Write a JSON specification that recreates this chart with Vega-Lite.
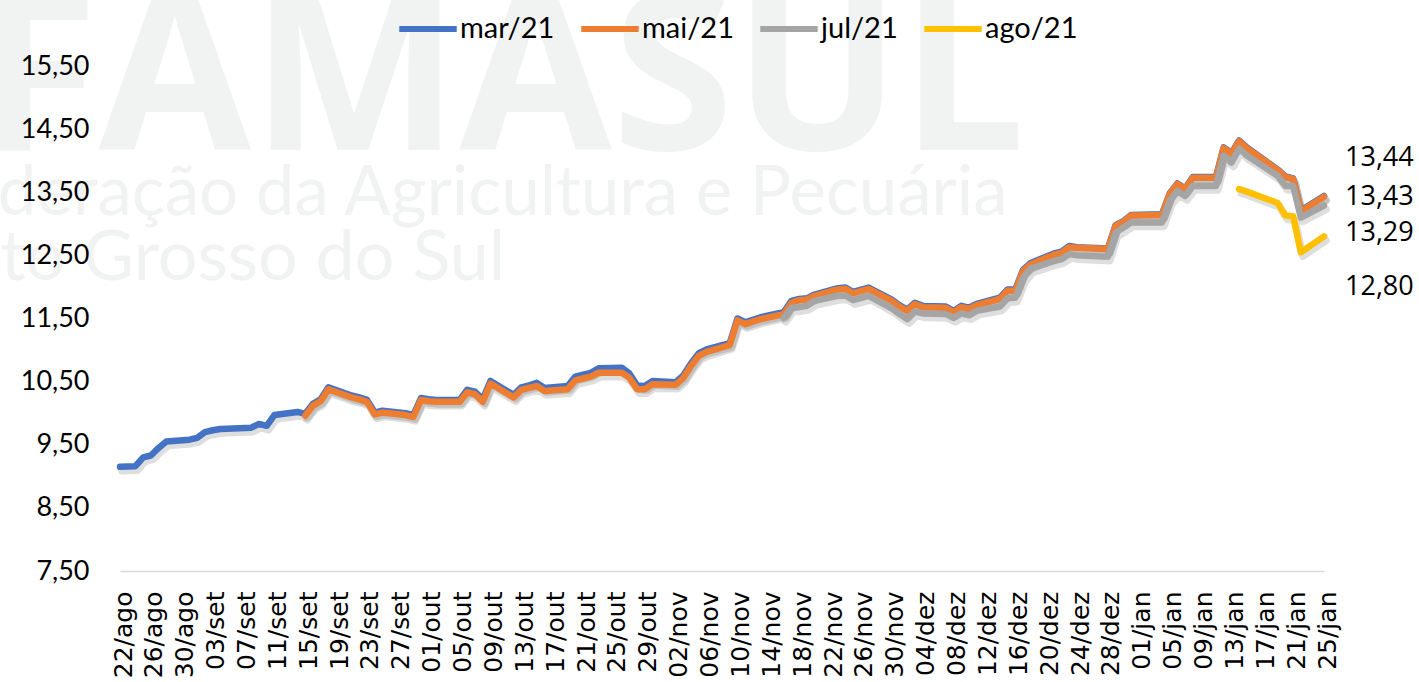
{
  "$schema": "https://vega.github.io/schema/vega-lite/v6.json",
  "autosize": {"type": "none"},
  "width": 1204,
  "height": 505,
  "padding": {"left": 120, "top": 66, "right": 95, "bottom": 111},
  "background": "#ffffff",
  "config": {
    "view": {"stroke": null},
    "locale": {
      "number": {"decimal": ",", "thousands": ".", "grouping": [3], "currency": ["R$", ""]},
      "time": {
        "dateTime": "%A, %e de %B de %Y. %X", "date": "%d/%m/%Y", "time": "%H:%M:%S", "periods": ["AM", "PM"],
        "days": ["Domingo", "Segunda", "Terça", "Quarta", "Quinta", "Sexta", "Sábado"],
        "shortDays": ["Dom", "Seg", "Ter", "Qua", "Qui", "Sex", "Sáb"],
        "months": ["Janeiro", "Fevereiro", "Março", "Abril", "Maio", "Junho", "Julho", "Agosto", "Setembro", "Outubro", "Novembro", "Dezembro"],
        "shortMonths": ["jan", "fev", "mar", "abr", "mai", "jun", "jul", "ago", "set", "out", "nov", "dez"]
      }
    }
  },
  "resolve": {"axis": {"x": "independent", "y": "independent"}},
  "datasets": {
    "precos": [
      {"d": "2020-08-22", "mar/21": 9.15},
      {"d": "2020-08-24", "mar/21": 9.16},
      {"d": "2020-08-25", "mar/21": 9.30},
      {"d": "2020-08-26", "mar/21": 9.33},
      {"d": "2020-08-27", "mar/21": 9.45},
      {"d": "2020-08-28", "mar/21": 9.55},
      {"d": "2020-08-31", "mar/21": 9.58},
      {"d": "2020-09-01", "mar/21": 9.61},
      {"d": "2020-09-02", "mar/21": 9.70},
      {"d": "2020-09-03", "mar/21": 9.73},
      {"d": "2020-09-04", "mar/21": 9.75},
      {"d": "2020-09-08", "mar/21": 9.77},
      {"d": "2020-09-09", "mar/21": 9.83},
      {"d": "2020-09-10", "mar/21": 9.80},
      {"d": "2020-09-11", "mar/21": 9.97},
      {"d": "2020-09-14", "mar/21": 10.02},
      {"d": "2020-09-15", "mar/21": 9.99, "mai/21": 9.96},
      {"d": "2020-09-16", "mar/21": 10.15, "mai/21": 10.12},
      {"d": "2020-09-17", "mar/21": 10.22, "mai/21": 10.19},
      {"d": "2020-09-18", "mar/21": 10.41, "mai/21": 10.38},
      {"d": "2020-09-21", "mar/21": 10.28, "mai/21": 10.25},
      {"d": "2020-09-22", "mar/21": 10.25, "mai/21": 10.22},
      {"d": "2020-09-23", "mar/21": 10.21, "mai/21": 10.18},
      {"d": "2020-09-24", "mar/21": 10.01, "mai/21": 9.98},
      {"d": "2020-09-25", "mar/21": 10.04, "mai/21": 10.01},
      {"d": "2020-09-28", "mar/21": 10.00, "mai/21": 9.97},
      {"d": "2020-09-29", "mar/21": 9.97, "mai/21": 9.94},
      {"d": "2020-09-30", "mar/21": 10.24, "mai/21": 10.21},
      {"d": "2020-10-01", "mar/21": 10.22, "mai/21": 10.19},
      {"d": "2020-10-02", "mar/21": 10.21, "mai/21": 10.18},
      {"d": "2020-10-05", "mar/21": 10.21, "mai/21": 10.18},
      {"d": "2020-10-06", "mar/21": 10.37, "mai/21": 10.33},
      {"d": "2020-10-07", "mar/21": 10.34, "mai/21": 10.30},
      {"d": "2020-10-08", "mar/21": 10.22, "mai/21": 10.18},
      {"d": "2020-10-09", "mar/21": 10.51, "mai/21": 10.47},
      {"d": "2020-10-12", "mar/21": 10.29, "mai/21": 10.25},
      {"d": "2020-10-13", "mar/21": 10.41, "mai/21": 10.37},
      {"d": "2020-10-14", "mar/21": 10.44, "mai/21": 10.40},
      {"d": "2020-10-15", "mar/21": 10.48, "mai/21": 10.43},
      {"d": "2020-10-16", "mar/21": 10.40, "mai/21": 10.35},
      {"d": "2020-10-19", "mar/21": 10.43, "mai/21": 10.38},
      {"d": "2020-10-20", "mar/21": 10.58, "mai/21": 10.52},
      {"d": "2020-10-21", "mar/21": 10.61, "mai/21": 10.55},
      {"d": "2020-10-22", "mar/21": 10.64, "mai/21": 10.58},
      {"d": "2020-10-23", "mar/21": 10.71, "mai/21": 10.64},
      {"d": "2020-10-26", "mar/21": 10.72, "mai/21": 10.64},
      {"d": "2020-10-27", "mar/21": 10.63, "mai/21": 10.56},
      {"d": "2020-10-28", "mar/21": 10.44, "mai/21": 10.38},
      {"d": "2020-10-29", "mar/21": 10.43, "mai/21": 10.38},
      {"d": "2020-10-30", "mar/21": 10.51, "mai/21": 10.46},
      {"d": "2020-11-02", "mar/21": 10.49, "mai/21": 10.45},
      {"d": "2020-11-03", "mar/21": 10.60, "mai/21": 10.56},
      {"d": "2020-11-04", "mar/21": 10.79, "mai/21": 10.75},
      {"d": "2020-11-05", "mar/21": 10.95, "mai/21": 10.91},
      {"d": "2020-11-06", "mar/21": 11.01, "mai/21": 10.97},
      {"d": "2020-11-09", "mar/21": 11.11, "mai/21": 11.08},
      {"d": "2020-11-10", "mar/21": 11.50, "mai/21": 11.47},
      {"d": "2020-11-11", "mar/21": 11.44, "mai/21": 11.41},
      {"d": "2020-11-12", "mar/21": 11.48, "mai/21": 11.45},
      {"d": "2020-11-13", "mar/21": 11.52, "mai/21": 11.49},
      {"d": "2020-11-16", "mar/21": 11.60, "mai/21": 11.57, "jul/21": 11.51},
      {"d": "2020-11-17", "mar/21": 11.78, "mai/21": 11.75, "jul/21": 11.67},
      {"d": "2020-11-18", "mar/21": 11.81, "mai/21": 11.79, "jul/21": 11.68},
      {"d": "2020-11-19", "mar/21": 11.82, "mai/21": 11.80, "jul/21": 11.70},
      {"d": "2020-11-20", "mar/21": 11.88, "mai/21": 11.86, "jul/21": 11.78},
      {"d": "2020-11-23", "mar/21": 11.98, "mai/21": 11.96, "jul/21": 11.86},
      {"d": "2020-11-24", "mar/21": 11.99, "mai/21": 11.97, "jul/21": 11.86},
      {"d": "2020-11-25", "mar/21": 11.92, "mai/21": 11.90, "jul/21": 11.79},
      {"d": "2020-11-27", "mar/21": 11.99, "mai/21": 11.97, "jul/21": 11.86},
      {"d": "2020-11-30", "mar/21": 11.80, "mai/21": 11.78, "jul/21": 11.66},
      {"d": "2020-12-01", "mar/21": 11.71, "mai/21": 11.69, "jul/21": 11.57},
      {"d": "2020-12-02", "mar/21": 11.64, "mai/21": 11.62, "jul/21": 11.49},
      {"d": "2020-12-03", "mar/21": 11.75, "mai/21": 11.73, "jul/21": 11.61},
      {"d": "2020-12-04", "mar/21": 11.70, "mai/21": 11.68, "jul/21": 11.58},
      {"d": "2020-12-07", "mar/21": 11.69, "mai/21": 11.67, "jul/21": 11.57},
      {"d": "2020-12-08", "mar/21": 11.62, "mai/21": 11.60, "jul/21": 11.51},
      {"d": "2020-12-09", "mar/21": 11.70, "mai/21": 11.68, "jul/21": 11.58},
      {"d": "2020-12-10", "mar/21": 11.67, "mai/21": 11.65, "jul/21": 11.55},
      {"d": "2020-12-11", "mar/21": 11.73, "mai/21": 11.71, "jul/21": 11.62},
      {"d": "2020-12-14", "mar/21": 11.83, "mai/21": 11.81, "jul/21": 11.69},
      {"d": "2020-12-15", "mar/21": 11.96, "mai/21": 11.94, "jul/21": 11.82},
      {"d": "2020-12-16", "mar/21": 11.96, "mai/21": 11.94, "jul/21": 11.83},
      {"d": "2020-12-17", "mar/21": 12.27, "mai/21": 12.25, "jul/21": 12.14},
      {"d": "2020-12-18", "mar/21": 12.38, "mai/21": 12.36, "jul/21": 12.29},
      {"d": "2020-12-21", "mar/21": 12.53, "mai/21": 12.51, "jul/21": 12.41},
      {"d": "2020-12-22", "mar/21": 12.56, "mai/21": 12.54, "jul/21": 12.44},
      {"d": "2020-12-23", "mar/21": 12.65, "mai/21": 12.63, "jul/21": 12.52},
      {"d": "2020-12-24", "mar/21": 12.63, "mai/21": 12.62, "jul/21": 12.50},
      {"d": "2020-12-28", "mar/21": 12.61, "mai/21": 12.60, "jul/21": 12.48},
      {"d": "2020-12-29", "mar/21": 12.98, "mai/21": 12.97, "jul/21": 12.86},
      {"d": "2020-12-30", "mar/21": 13.04, "mai/21": 13.03, "jul/21": 12.94},
      {"d": "2020-12-31", "mar/21": 13.14, "mai/21": 13.13, "jul/21": 13.02},
      {"d": "2021-01-04", "mar/21": 13.15, "mai/21": 13.14, "jul/21": 13.02},
      {"d": "2021-01-05", "mar/21": 13.48, "mai/21": 13.47, "jul/21": 13.36},
      {"d": "2021-01-06", "mar/21": 13.64, "mai/21": 13.63, "jul/21": 13.52},
      {"d": "2021-01-07", "mar/21": 13.56, "mai/21": 13.55, "jul/21": 13.44},
      {"d": "2021-01-08", "mar/21": 13.74, "mai/21": 13.73, "jul/21": 13.60},
      {"d": "2021-01-11", "mar/21": 13.74, "mai/21": 13.73, "jul/21": 13.60},
      {"d": "2021-01-12", "mar/21": 14.21, "mai/21": 14.20, "jul/21": 14.08},
      {"d": "2021-01-13", "mar/21": 14.12, "mai/21": 14.11, "jul/21": 13.97},
      {"d": "2021-01-14", "mar/21": 14.32, "mai/21": 14.31, "jul/21": 14.19, "ago/21": 13.55},
      {"d": "2021-01-15", "mar/21": 14.21, "mai/21": 14.20, "jul/21": 14.08, "ago/21": 13.51},
      {"d": "2021-01-19", "mar/21": 13.86, "mai/21": 13.85, "jul/21": 13.76, "ago/21": 13.33},
      {"d": "2021-01-20", "mar/21": 13.75, "mai/21": 13.74, "jul/21": 13.60, "ago/21": 13.13},
      {"d": "2021-01-21", "mar/21": 13.72, "mai/21": 13.71, "jul/21": 13.60, "ago/21": 13.12},
      {"d": "2021-01-22", "mar/21": 13.21, "mai/21": 13.20, "jul/21": 13.10, "ago/21": 12.55},
      {"d": "2021-01-25", "mar/21": 13.44, "mai/21": 13.43, "jul/21": 13.29, "ago/21": 12.80}
    ]
  },
  "layer": [
    {
      "data": {"values": [{"t": "FAMASUL"}]},
      "mark": {"type": "text", "align": "left", "baseline": "alphabetic", "font": "Open Sans", "fontWeight": "bold", "fontSize": 221, "color": "#f1f3f2"},
      "encoding": {
        "x": {"datum": {"year": 2020, "month": 8, "date": 3, "hours": 12, "utc": true}, "type": "temporal", "axis": null},
        "y": {"datum": 14.17, "type": "quantitative", "axis": null},
        "text": {"field": "t"}
      }
    },
    {
      "data": {"values": [{"t": "Federação da Agricultura e Pecuária"}]},
      "mark": {"type": "text", "align": "right", "baseline": "alphabetic", "font": "Lato", "fontSize": 69, "color": "#f1f3f2"},
      "encoding": {
        "x": {"datum": {"year": 2020, "month": 12, "date": 15, "utc": true}, "type": "temporal", "axis": null},
        "y": {"datum": 13.14, "type": "quantitative", "axis": null},
        "text": {"field": "t"}
      }
    },
    {
      "data": {"values": [{"t": "de Mato Grosso do Sul"}]},
      "mark": {"type": "text", "align": "right", "baseline": "alphabetic", "font": "Lato", "fontSize": 70, "color": "#f1f3f2"},
      "encoding": {
        "x": {"datum": {"year": 2020, "month": 10, "date": 10, "hours": 22, "utc": true}, "type": "temporal", "axis": null},
        "y": {"datum": 12.11, "type": "quantitative", "axis": null},
        "text": {"field": "t"}
      }
    },
    {
      "data": {"name": "precos"},
      "transform": [
        {"fold": ["mar/21", "mai/21", "jul/21", "ago/21"], "as": ["serie", "v"]},
        {"filter": "isValid(datum.v)"}
      ],
      "mark": {"type": "line", "strokeWidth": 7.5, "strokeCap": "round", "strokeJoin": "round", "color": "#000000", "opacity": 0.13, "xOffset": 2, "yOffset": 4},
      "encoding": {
        "x": {"field": "d", "type": "temporal", "axis": null},
        "y": {"field": "v", "type": "quantitative", "axis": null},
        "detail": {"field": "serie"}
      }
    },
    {
      "data": {"name": "precos"},
      "transform": [
        {"fold": ["mar/21", "mai/21", "jul/21", "ago/21"], "as": ["serie", "v"]},
        {"filter": "isValid(datum.v)"}
      ],
      "mark": {"type": "line", "strokeWidth": 6.5, "strokeCap": "round", "strokeJoin": "round"},
      "encoding": {
        "x": {
          "field": "d", "type": "temporal",
          "scale": {"type": "utc", "nice": false, "domain": [{"year": 2020, "month": 8, "date": 22, "utc": true}, {"year": 2021, "month": 1, "date": 25, "utc": true}]},
          "axis": {
            "title": null, "format": "%d/%b", "labelAngle": -90, "labelAlign": "right", "labelBaseline": "middle",
            "labelFont": "DejaVu Sans", "labelFontSize": 25, "labelColor": "#000000", "labelPadding": 20, "labelOffset": 3,
            "labelFlush": false, "labelOverlap": false, "labelBound": false,
            "ticks": false, "grid": false, "domainColor": "#d9d9d9", "domainWidth": 1.5, "zindex": 1,
            "values": [
              {"year": 2020, "month": 8, "date": 22, "utc": true}, {"year": 2020, "month": 8, "date": 26, "utc": true},
              {"year": 2020, "month": 8, "date": 30, "utc": true}, {"year": 2020, "month": 9, "date": 3, "utc": true},
              {"year": 2020, "month": 9, "date": 7, "utc": true}, {"year": 2020, "month": 9, "date": 11, "utc": true},
              {"year": 2020, "month": 9, "date": 15, "utc": true}, {"year": 2020, "month": 9, "date": 19, "utc": true},
              {"year": 2020, "month": 9, "date": 23, "utc": true}, {"year": 2020, "month": 9, "date": 27, "utc": true},
              {"year": 2020, "month": 10, "date": 1, "utc": true}, {"year": 2020, "month": 10, "date": 5, "utc": true},
              {"year": 2020, "month": 10, "date": 9, "utc": true}, {"year": 2020, "month": 10, "date": 13, "utc": true},
              {"year": 2020, "month": 10, "date": 17, "utc": true}, {"year": 2020, "month": 10, "date": 21, "utc": true},
              {"year": 2020, "month": 10, "date": 25, "utc": true}, {"year": 2020, "month": 10, "date": 29, "utc": true},
              {"year": 2020, "month": 11, "date": 2, "utc": true}, {"year": 2020, "month": 11, "date": 6, "utc": true},
              {"year": 2020, "month": 11, "date": 10, "utc": true}, {"year": 2020, "month": 11, "date": 14, "utc": true},
              {"year": 2020, "month": 11, "date": 18, "utc": true}, {"year": 2020, "month": 11, "date": 22, "utc": true},
              {"year": 2020, "month": 11, "date": 26, "utc": true}, {"year": 2020, "month": 11, "date": 30, "utc": true},
              {"year": 2020, "month": 12, "date": 4, "utc": true}, {"year": 2020, "month": 12, "date": 8, "utc": true},
              {"year": 2020, "month": 12, "date": 12, "utc": true}, {"year": 2020, "month": 12, "date": 16, "utc": true},
              {"year": 2020, "month": 12, "date": 20, "utc": true}, {"year": 2020, "month": 12, "date": 24, "utc": true},
              {"year": 2020, "month": 12, "date": 28, "utc": true}, {"year": 2021, "month": 1, "date": 1, "utc": true},
              {"year": 2021, "month": 1, "date": 5, "utc": true}, {"year": 2021, "month": 1, "date": 9, "utc": true},
              {"year": 2021, "month": 1, "date": 13, "utc": true}, {"year": 2021, "month": 1, "date": 17, "utc": true},
              {"year": 2021, "month": 1, "date": 21, "utc": true}, {"year": 2021, "month": 1, "date": 25, "utc": true}
            ]
          }
        },
        "y": {
          "field": "v", "type": "quantitative",
          "scale": {"domain": [7.5, 15.5], "nice": false, "zero": false},
          "axis": {
            "title": null, "values": [7.5, 8.5, 9.5, 10.5, 11.5, 12.5, 13.5, 14.5, 15.5], "format": ".2f",
            "grid": false, "domain": false, "ticks": false, "labelPadding": 31, "labelOverlap": false, "zindex": 1,
            "labelFont": "Lato", "labelFontSize": 27, "labelColor": "#000000"
          }
        },
        "color": {
          "field": "serie", "type": "nominal",
          "scale": {"domain": ["mar/21", "mai/21", "jul/21", "ago/21"], "range": ["#4472C4", "#ED7D31", "#A5A5A5", "#FFC000"]},
          "legend": {
            "title": null, "orient": "none", "legendX": 276, "legendY": -69, "direction": "horizontal",
            "symbolType": "stroke", "symbolSize": 3300, "symbolStrokeWidth": 6,
            "labelFont": "Lato", "labelFontSize": 29, "labelColor": "#000000", "labelOffset": 0,
            "columnPadding": 14, "labelLimit": 0
          }
        },
        "detail": {"field": "serie"}
      }
    },
    {
      "data": {"name": "precos"},
      "transform": [
        {"fold": ["mar/21", "mai/21", "jul/21", "ago/21"], "as": ["serie", "v"]},
        {"filter": "isValid(datum.v) && utcyear(datum.d) == 2021 && utcmonth(datum.d) == 0 && utcdate(datum.d) == 25 && datum.serie == 'mar/21'"}
      ],
      "mark": {"type": "text", "align": "left", "dx": 21, "dy": -38, "font": "Open Sans", "fontSize": 27, "color": "#000000"},
      "encoding": {
        "x": {"field": "d", "type": "temporal", "axis": null},
        "y": {"field": "v", "type": "quantitative", "axis": null},
        "text": {"field": "v", "type": "quantitative", "format": ".2f"}
      }
    },
    {
      "data": {"name": "precos"},
      "transform": [
        {"fold": ["mar/21", "mai/21", "jul/21", "ago/21"], "as": ["serie", "v"]},
        {"filter": "isValid(datum.v) && utcyear(datum.d) == 2021 && utcmonth(datum.d) == 0 && utcdate(datum.d) == 25 && datum.serie == 'mai/21'"}
      ],
      "mark": {"type": "text", "align": "left", "dx": 21, "dy": 0, "font": "Open Sans", "fontSize": 27, "color": "#000000"},
      "encoding": {
        "x": {"field": "d", "type": "temporal", "axis": null},
        "y": {"field": "v", "type": "quantitative", "axis": null},
        "text": {"field": "v", "type": "quantitative", "format": ".2f"}
      }
    },
    {
      "data": {"name": "precos"},
      "transform": [
        {"fold": ["mar/21", "mai/21", "jul/21", "ago/21"], "as": ["serie", "v"]},
        {"filter": "isValid(datum.v) && utcyear(datum.d) == 2021 && utcmonth(datum.d) == 0 && utcdate(datum.d) == 25 && datum.serie == 'jul/21'"}
      ],
      "mark": {"type": "text", "align": "left", "dx": 21, "dy": 27, "font": "Open Sans", "fontSize": 27, "color": "#000000"},
      "encoding": {
        "x": {"field": "d", "type": "temporal", "axis": null},
        "y": {"field": "v", "type": "quantitative", "axis": null},
        "text": {"field": "v", "type": "quantitative", "format": ".2f"}
      }
    },
    {
      "data": {"name": "precos"},
      "transform": [
        {"fold": ["mar/21", "mai/21", "jul/21", "ago/21"], "as": ["serie", "v"]},
        {"filter": "isValid(datum.v) && utcyear(datum.d) == 2021 && utcmonth(datum.d) == 0 && utcdate(datum.d) == 25 && datum.serie == 'ago/21'"}
      ],
      "mark": {"type": "text", "align": "left", "dx": 21, "dy": 51, "font": "Open Sans", "fontSize": 27, "color": "#000000"},
      "encoding": {
        "x": {"field": "d", "type": "temporal", "axis": null},
        "y": {"field": "v", "type": "quantitative", "axis": null},
        "text": {"field": "v", "type": "quantitative", "format": ".2f"}
      }
    }
  ]
}
